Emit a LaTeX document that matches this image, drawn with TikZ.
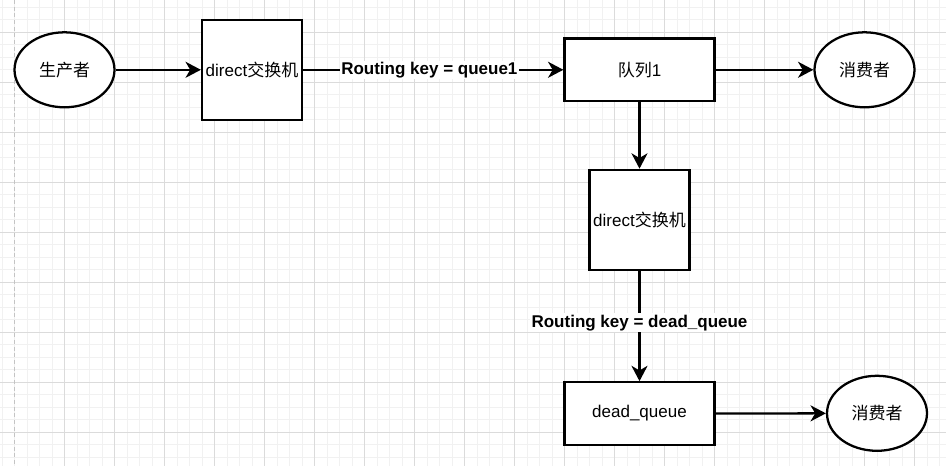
\documentclass[tikz,border=0pt]{standalone}
\usepackage{fontspec}
\setmainfont{Liberation Sans}
\newfontfamily\cjk{Noto Sans CJK SC}
\usetikzlibrary{shapes.geometric, arrows.meta}

\definecolor{gridminor}{HTML}{F1F1F1}
\definecolor{gridmajor}{HTML}{DBDBDB}
\definecolor{pageedge}{HTML}{C4C4C4}

\begin{document}
\begin{tikzpicture}[x=0.75pt, y=-0.75pt,
	font=\fontsize{12.75}{15}\selectfont,
	actor/.style={ellipse, draw, line width=1.7pt, fill=white, minimum width=75pt, minimum height=56.25pt, inner sep=0pt},
	exchange/.style={rectangle, draw, line width=1.7pt, fill=white, minimum width=75pt, minimum height=75pt, inner sep=0pt},
	queuebox/.style={rectangle, draw, line width=1.7pt, fill=white, minimum width=112.5pt, minimum height=46.875pt, inner sep=0pt},
	flow/.style={line width=1.7pt, -{Stealth[length=11.5pt, width=12pt, inset=3.5pt]}},
	keylabel/.style={fill=white, font=\fontsize{12.75}{15}\selectfont\bfseries, inner sep=1pt}]

	% Canvas and grid

	\fill[white] (0, 0) rectangle (946, 466);
	\useasboundingbox (0, 0) rectangle (946, 466);

	\begin{scope}[gridminor, line width=0.75pt]
		\foreach \gx in {0,...,75}
			\draw ({2 + 12.5*\gx}, 0) -- ({2 + 12.5*\gx}, 466);
		\foreach \gy in {0,...,36}
			\draw (0, {7.3 + 12.5*\gy}) -- (946, {7.3 + 12.5*\gy});
	\end{scope}

	\begin{scope}[gridmajor, line width=0.75pt]
		\foreach \gx in {1,...,18}
			\draw ({14.5 + 50*\gx}, 0) -- ({14.5 + 50*\gx}, 466);
		\foreach \gy in {0,...,8}
			\draw (0, {32.3 + 50*\gy}) -- (946, {32.3 + 50*\gy});
	\end{scope}

	\draw[pageedge, line width=0.75pt, dash pattern=on 3pt off 2pt] (14.5, 0) -- (14.5, 466);

	% Producer, exchanges, queues, consumers

	\node[actor] (producer) at (64.5, 69.8) {\cjk 生产者};
	\node[exchange] (exchA) at (252, 69.8) {direct{\cjk 交换机}};
	\node[queuebox] (queueA) at (639.5, 69.8) {{\cjk 队列}1};
	\node[actor] (consumerA) at (864.5, 69.8) {\cjk 消费者};

	\node[exchange] (exchB) at (639.5, 219.8) {direct{\cjk 交换机}};
	\node[queuebox] (deadQ) at (639.5, 413.55) {dead\_queue};
	\node[actor] (consumerB) at (877, 413.3) {\cjk 消费者};

	% Connectors

	\begin{scope}[flow]

		\draw (producer) -- (exchA);
		\draw (exchA) -- node[keylabel, pos=0.485] {Routing key = queue1} (queueA);
		\draw (queueA) -- (consumerA);
		\draw (queueA) -- (exchB);
		\draw (exchB) -- node[keylabel, pos=0.47] {Routing key = dead\_queue} (deadQ);
		\draw (deadQ) -- (consumerB);

	\end{scope}

\end{tikzpicture}
\end{document}
